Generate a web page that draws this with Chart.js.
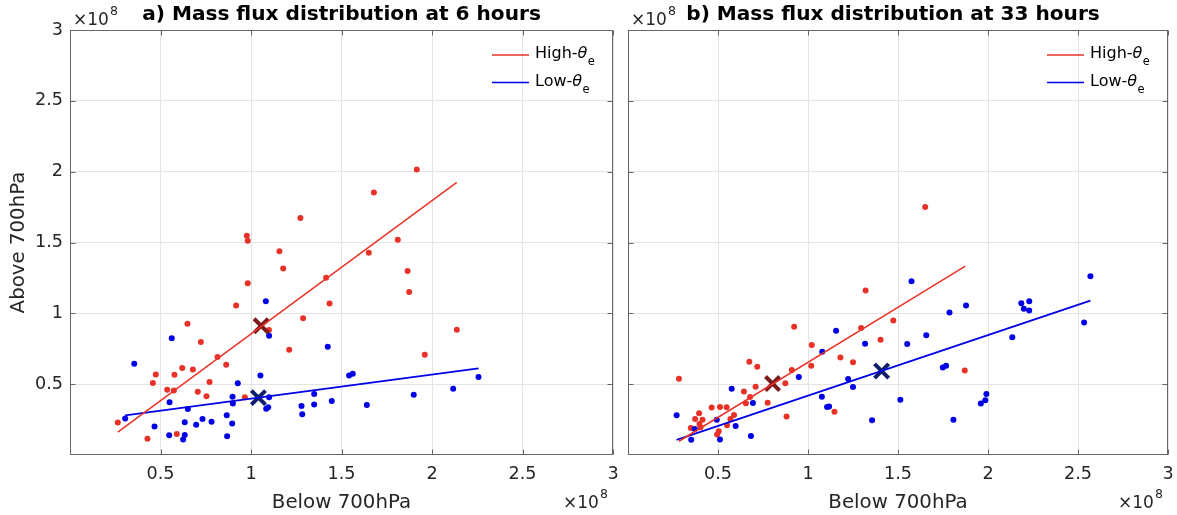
<!DOCTYPE html>
<html><head><meta charset="utf-8">
<script src="https://cdn.jsdelivr.net/npm/chart.js@4.4.1/dist/chart.umd.min.js"></script>
<style>
html,body{margin:0;padding:0;background:#fff;}
#wrap{position:relative;width:1177px;height:515px;overflow:hidden;background:#fff;}
canvas{position:absolute;top:0;}
</style></head><body>
<div id="wrap">
<canvas id="ca" width="620" height="515" style="left:0px"></canvas>
<canvas id="cb" width="557" height="515" style="left:620px"></canvas>
</div>
<script>
// ---------- data (units of 1e8) ----------
const tickValues = [0.5, 1, 1.5, 2, 2.5, 3];
const tickLabels = ['0.5', '1', '1.5', '2', '2.5', '3'];
const xLabel = 'Below 700hPa';
const yLabel = 'Above 700hPa';
const titleA = 'a) Mass flux distribution at 6 hours';
const titleB = 'b) Mass flux distribution at 33 hours';
const seriesNames = ['High-', 'Low-'];   // followed by θ with subscript e
const exponentText = ['×10', '8'];

const aRedX = [0.264,0.428,0.458,0.474,0.537,0.574,0.577,0.590,0.620,0.649,0.679,0.706,0.723,0.754,0.771,0.815,0.863,0.918,0.966,0.977,0.982,0.982,1.099,1.157,1.178,1.211,1.273,1.288,1.415,1.434,1.651,1.679,1.811,1.865,1.874,1.916,1.960,2.137];
const aRedY = [0.229,0.114,0.508,0.569,0.461,0.456,0.567,0.149,0.614,0.926,0.604,0.447,0.797,0.414,0.515,0.691,0.637,1.055,0.407,1.548,1.513,1.213,0.882,1.438,1.316,0.743,1.673,0.966,1.252,1.069,1.428,1.853,1.520,1.299,1.151,2.015,0.708,0.884];
const aBlueX = [0.305,0.355,0.467,0.548,0.550,0.562,0.625,0.634,0.634,0.651,0.697,0.732,0.782,0.866,0.868,0.896,0.898,0.900,0.927,1.052,1.082,1.084,1.095,1.100,1.100,1.279,1.283,1.349,1.349,1.424,1.446,1.542,1.562,1.640,1.899,2.117,2.257];
const aBlueY = [0.257,0.644,0.201,0.139,0.372,0.825,0.109,0.142,0.231,0.325,0.213,0.255,0.234,0.280,0.132,0.222,0.412,0.363,0.506,0.562,1.086,0.327,0.337,0.842,0.407,0.346,0.287,0.431,0.356,0.764,0.382,0.562,0.574,0.353,0.426,0.468,0.551];
const aRedFitX = [0.264, 2.137], aRedFitY = [0.161, 1.924];
const aBlueFitX = [0.305, 2.257], aBlueFitY = [0.280, 0.611];
const aRedMean = [1.056, 0.912], aBlueMean = [1.041, 0.405];

const bRedX = [0.283,0.349,0.373,0.395,0.397,0.403,0.414,0.465,0.495,0.504,0.511,0.548,0.550,0.569,0.589,0.644,0.655,0.674,0.678,0.709,0.718,0.776,0.874,0.881,0.910,0.923,1.018,1.021,1.147,1.180,1.250,1.295,1.320,1.403,1.474,1.651,1.871];
const bRedY = [0.539,0.191,0.255,0.295,0.219,0.196,0.248,0.335,0.144,0.168,0.339,0.337,0.210,0.255,0.283,0.449,0.365,0.658,0.410,0.482,0.623,0.368,0.506,0.271,0.600,0.905,0.630,0.776,0.306,0.689,0.654,0.896,1.161,0.813,0.949,1.750,0.597];
const bBlueX = [0.270,0.351,0.371,0.493,0.511,0.576,0.598,0.683,0.694,0.949,1.077,1.079,1.106,1.117,1.156,1.223,1.250,1.317,1.356,1.513,1.551,1.575,1.657,1.749,1.767,1.786,1.808,1.878,1.960,1.985,1.991,2.135,2.185,2.199,2.229,2.229,2.534,2.569];
const bBlueY = [0.280,0.107,0.184,0.248,0.109,0.468,0.205,0.135,0.367,0.550,0.412,0.729,0.339,0.342,0.877,0.537,0.480,0.785,0.245,0.390,0.783,1.227,0.846,0.618,0.630,1.006,0.248,1.055,0.363,0.386,0.431,0.832,1.072,1.032,1.086,1.020,0.935,1.262];
const bRedFitX = [0.283, 1.874], bRedFitY = [0.097, 1.334];
const bBlueFitX = [0.270, 2.569], bBlueFitY = [0.107, 1.090];
const bRedMean = [0.803, 0.504], bBlueMean = [1.409, 0.593];

// ---------- styling ----------
const RED = 'rgb(232,50,40)';
const BLUE = 'rgb(0,0,230)';
const RED_X = 'rgb(122,28,28)';
const BLUE_X = 'rgb(16,30,105)';
const FONT = '"DejaVu Sans", sans-serif';
const TXT = '#262626';
Chart.defaults.font.family = FONT;
Chart.defaults.color = TXT;

const pts = (xs, ys) => xs.map((v, i) => ({x: v, y: ys[i]}));

const decor = {
  id: 'decor',
  beforeDatasetsDraw(chart) {
    const {ctx, chartArea: a, scales: {x, y}} = chart;
    const L = Math.round(a.left) + 0.5, R = Math.round(a.right) - 0.5;
    const T = Math.round(a.top) + 0.5, B = Math.round(a.bottom) - 0.5;
    ctx.save();
    ctx.strokeStyle = '#666666';
    ctx.lineWidth = 1;
    ctx.beginPath();
    tickValues.forEach(v => {
      const px = Math.round(x.getPixelForValue(v)) + 0.5;
      ctx.moveTo(px, B); ctx.lineTo(px, B - 5);
      ctx.moveTo(px, T); ctx.lineTo(px, T + 5);
      const py = Math.round(y.getPixelForValue(v)) + 0.5;
      ctx.moveTo(L, py); ctx.lineTo(L + 5, py);
      ctx.moveTo(R, py); ctx.lineTo(R - 5, py);
    });
    ctx.stroke();
    ctx.strokeRect(L, T, R - L, B - T);
    ctx.restore();
  },
  afterDraw(chart, args, o) {
    const {ctx, chartArea: a} = chart;
    ctx.save();
    ctx.textBaseline = 'alphabetic';
    // title
    ctx.textAlign = 'center';
    ctx.fillStyle = '#000';
    ctx.font = 'bold 20.1px ' + FONT;
    ctx.fillText(o.title, (a.left + a.right) / 2 + o.titleShift, 19.5);
    ctx.textAlign = 'left';
    // exponent labels
    ctx.fillStyle = TXT;
    const drawExp = (x0, base) => {
      ctx.font = '17px ' + FONT;
      ctx.fillText(exponentText[0], x0, base);
      const w = ctx.measureText(exponentText[0]).width;
      ctx.font = '12.5px ' + FONT;
      ctx.fillText(exponentText[1], x0 + w + 1, base - 10);
    };
    drawExp(a.left + 3, a.top - 5);
    drawExp(a.right - 50, 508);
    // legend
    const cols = [RED, BLUE];
    seriesNames.forEach((name, i) => {
      const ly = a.top + 25 + i * 27.5;
      ctx.strokeStyle = cols[i];
      ctx.lineWidth = 1.3;
      ctx.beginPath();
      ctx.moveTo(a.right - 121, ly);
      ctx.lineTo(a.right - 84, ly);
      ctx.stroke();
      let tx = a.right - 78;
      const base = ly + 3;
      ctx.fillStyle = '#000';
      ctx.font = '16px ' + FONT;
      ctx.fillText(name, tx, base);
      tx += ctx.measureText(name).width;
      ctx.font = 'italic 16px ' + FONT;
      ctx.fillText('θ', tx, base);
      tx += ctx.measureText('θ').width + 0.5;
      ctx.font = '11.5px ' + FONT;
      ctx.fillText('e', tx, base + 7);
    });
    ctx.restore();
  }
};

function makeChart(id, cfg) {
  const datasets = [
    {data: pts(cfg.redFitX, cfg.redFitY), showLine: true, borderColor: RED, borderWidth: 1.5, pointRadius: 0, fill: false},
    {data: pts(cfg.blueFitX, cfg.blueFitY), showLine: true, borderColor: BLUE, borderWidth: 1.8, pointRadius: 0, fill: false},
    {data: [{x: cfg.redMean[0], y: cfg.redMean[1]}], pointStyle: 'crossRot', pointRadius: 10, borderColor: RED_X, borderWidth: 4},
    {data: [{x: cfg.blueMean[0], y: cfg.blueMean[1]}], pointStyle: 'crossRot', pointRadius: 10, borderColor: BLUE_X, borderWidth: 4},
    {data: pts(cfg.blueX, cfg.blueY), pointRadius: 3, backgroundColor: BLUE, borderWidth: 0},
    {data: pts(cfg.redX, cfg.redY), pointRadius: 3, backgroundColor: RED, borderWidth: 0}
  ];
  return new Chart(document.getElementById(id), {
    type: 'scatter',
    data: {datasets},
    plugins: [decor],
    options: {
      responsive: false,
      animation: false,
      events: [],
      layout: {autoPadding: false, padding: {left: 0, right: cfg.padRight, top: 30, bottom: 0}},
      plugins: {
        legend: {display: false},
        tooltip: {enabled: false},
        title: {display: false},
        decor: {title: cfg.title, titleShift: cfg.titleShift}
      },
      scales: {
        x: {
          type: 'linear', min: 0, max: 3,
          afterBuildTicks: s => { s.ticks = tickValues.map(v => ({value: v})); },
          afterFit: s => { s.height = 60; },
          ticks: {font: {size: 17.6}, padding: 0, maxRotation: 0, autoSkip: false,
                  callback: v => tickLabels[tickValues.indexOf(v)] ?? ''},
          grid: {color: '#e4e4e4', drawTicks: true, tickLength: 9, tickColor: 'rgba(0,0,0,0)'},
          border: {display: false},
          title: {display: true, text: xLabel, font: {size: 19.8}, color: TXT, padding: {top: 0, bottom: 0}}
        },
        y: {
          type: 'linear', min: 0, max: 3,
          afterBuildTicks: s => { s.ticks = tickValues.map(v => ({value: v})); },
          afterFit: s => { s.width = cfg.yWidth; },
          ticks: {display: cfg.showY, font: {size: 17.6}, padding: 7,
                  callback: v => tickLabels[tickValues.indexOf(v)] ?? ''},
          grid: {color: '#e4e4e4', drawTicks: false},
          border: {display: false},
          title: {display: cfg.showY, text: yLabel, font: {size: 19.8}, color: TXT, padding: {top: 7, bottom: 0}}
        }
      }
    }
  });
}

makeChart('ca', {
  title: titleA, titleShift: 0, padRight: 7, yWidth: 70, showY: true,
  redX: aRedX, redY: aRedY, blueX: aBlueX, blueY: aBlueY,
  redFitX: aRedFitX, redFitY: aRedFitY, blueFitX: aBlueFitX, blueFitY: aBlueFitY,
  redMean: aRedMean, blueMean: aBlueMean
});
makeChart('cb', {
  title: titleB, titleShift: -5, padRight: 9, yWidth: 8, showY: false,
  redX: bRedX, redY: bRedY, blueX: bBlueX, blueY: bBlueY,
  redFitX: bRedFitX, redFitY: bRedFitY, blueFitX: bBlueFitX, blueFitY: bBlueFitY,
  redMean: bRedMean, blueMean: bBlueMean
});
</script>
</body></html>
